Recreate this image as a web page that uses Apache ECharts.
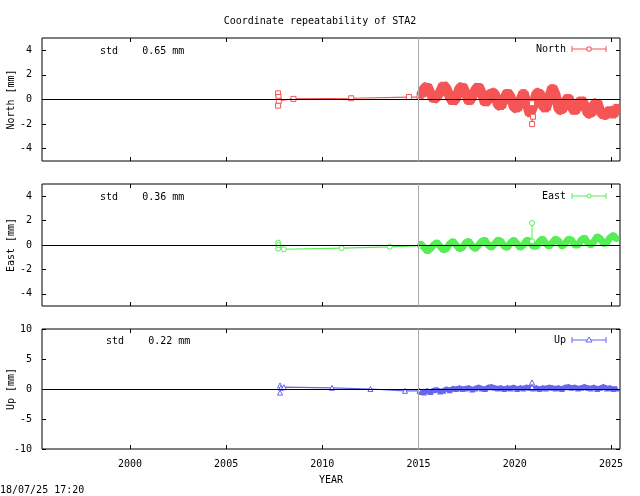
<!DOCTYPE html>
<html><head><meta charset="utf-8">
<script src="https://cdn.jsdelivr.net/npm/echarts@6/dist/echarts.min.js"></script>
<style>html,body{margin:0;padding:0;background:#fff}#c{width:640px;height:496px}</style>
</head><body><div id="c"></div>
<script>
const xTicks = [2000, 2005, 2010, 2015, 2020, 2025];
const yTicksNE = [-4, -2, 0, 2, 4];
const yTicksUp = [-10, -5, 0, 5, 10];
const yNames = ['North [mm]', 'East [mm]', 'Up [mm]'];
const t0 = 2015.12, step = 1/6;
const tPost = Array.from({length: 62}, (_, i) => +(t0 + i * step).toFixed(3));
const northEarlyT = [2007.7, 2007.7, 2007.72, 2007.74, 2008.5, 2011.5, 2014.5, 2015.05];
const northEarlyV = [0.5, -0.5, 0.2, -0.1, 0.05, 0.1, 0.2, 0.2];
const northPost = [0.3,0.9,1.1,0.5,0.0,0.2, 0.6,1.2,0.9,0.2,-0.2,0.1, 0.9,1.1,0.5,-0.2,0.2,0.8, 1.1,0.5,-0.3,0.0,0.6,0.5,
 -0.4,-0.6,0.1,0.6,0.2,-0.6, -0.8,-0.1,0.6,-0.3,-1.2,-0.6, 0.5,0.6,-0.5,-0.8,0.2,1.0, 0.4,-0.8,-0.9,-0.2,0.2,-0.6,
 -1.0,-0.5,0.0,-0.4,-1.1,-1.2, -0.4,-0.2,-1.0,-1.3,-1.2,-0.8, -1.3,-0.6];
const northOut = [[2020.9, -2.0], [2020.95, -1.4]];
const eastEarlyT = [2007.7, 2007.7, 2007.72, 2008.0, 2011.0, 2013.5, 2015.05];
const eastEarlyV = [0.2, -0.3, 0.0, -0.35, -0.25, -0.15, -0.05];
const eastPost = [0.1,-0.2,-0.5,-0.3,0.0,0.2, -0.1,-0.4,-0.3,0.1,0.3,0.0, -0.3,-0.2,0.2,0.3,-0.1,-0.3, 0.0,0.3,0.4,0.0,-0.2,0.1,
 0.4,0.3,-0.1,-0.2,0.2,0.4, 0.1,-0.2,0.0,0.4,0.3,-0.1, -0.1,0.3,0.5,0.1,-0.1,0.2, 0.5,0.3,-0.1,0.1,0.5,0.4,
 0.0,0.0,0.4,0.6,0.2,0.0, 0.3,0.7,0.5,0.1,0.2,0.6, 0.8,0.5];
const eastOut = [[2020.9, 1.8]];
const upEarlyT = [2007.8, 2007.8, 2007.85, 2008.0, 2010.5, 2012.5, 2014.3, 2015.05];
const upEarlyV = [0.6, -0.6, 0.2, 0.3, 0.2, 0.0, -0.3, -0.3];
const upPost = [-0.5,-0.6,-0.3,-0.5,-0.2,-0.1, -0.4,-0.3,0.0,-0.2,0.1,0.0, 0.2,0.0,0.1,0.2,-0.1,0.1, 0.3,0.1,0.0,0.3,0.4,0.2,
 0.1,0.2,0.0,0.2,0.1,0.3, 0.0,0.2,0.1,0.3,0.2,0.1, 0.2,0.0,0.2,0.1,0.3,0.2, 0.1,0.2,0.0,0.3,0.4,0.2,
 0.3,0.1,0.2,0.4,0.2,0.1, 0.3,0.0,0.2,0.4,0.1,0.2, 0.0,0.1];
const upOut = [[2020.9, 1.1]];
const stdText = ['std    0.65 mm', 'std    0.36 mm', 'std    0.22 mm'];

const F = 'DejaVu Sans Mono';
const cN = '#f55555', cE = '#55ee55', cU = '#6666ee';
const gdef = [{top:38,height:123},{top:184,height:122},{top:329,height:120}];
const grids = gdef.map(g=>({left:42,right:20,top:g.top,height:g.height,show:true,borderColor:'#000',borderWidth:1,outerBoundsMode:'none',containLabel:false}));
const xMin = 1995.43, xMax = 2025.47;
const xAxes = [], yAxes = [];
const tk = c=>({inside:true,length:4,customValues:c,lineStyle:{color:'#000'}});
[0,1,2].forEach(i=>{
  const bottom = i===2;
  xAxes.push({type:'value',gridIndex:i,position:'bottom',min:xMin,max:xMax,splitLine:{show:false},axisLine:{show:false,onZero:false},
    axisTick:tk(xTicks),
    axisLabel:{show:bottom,customValues:xTicks,formatter:v=>String(v),fontFamily:F,fontSize:10,color:'#000',margin:10},
    name:bottom?'YEAR':'',nameLocation:'middle',nameGap:26,nameTextStyle:{fontFamily:F,fontSize:10,color:'#000'}});
  xAxes.push({type:'value',gridIndex:i,position:'top',min:xMin,max:xMax,splitLine:{show:false},axisLine:{show:false,onZero:false},
    axisTick:tk(xTicks),axisLabel:{show:false}});
  const ticks = i===2?yTicksUp:yTicksNE;
  const lim = i===2?10:5;
  yAxes.push({type:'value',gridIndex:i,position:'left',min:-lim,max:lim,splitLine:{show:false},axisLine:{show:false,onZero:false},
    axisTick:tk(ticks),
    axisLabel:{customValues:ticks,fontFamily:F,fontSize:10,color:'#000',margin:10}});
  yAxes.push({type:'value',gridIndex:i,position:'right',min:-lim,max:lim,splitLine:{show:false},axisLine:{show:false,onZero:false},
    axisTick:tk(ticks),axisLabel:{show:false}});
});
function zip(t,v){return t.map((x,i)=>[x,v[i]]);}
function mk(){return {silent:true,symbol:'none',label:{show:false},data:[
  {yAxis:0,lineStyle:{color:'#000',width:1.2,type:'solid'}},
  {xAxis:2015.0,lineStyle:{color:'#aaa',width:1,type:'solid'}}]};}
const series=[];
[[northEarlyT,northEarlyV,northPost,northOut,cN,'North','rect',10],
 [eastEarlyT,eastEarlyV,eastPost,eastOut,cE,'East','circle',7],
 [upEarlyT,upEarlyV,upPost,upOut,cU,'Up','triangle',5]].forEach((s,i)=>{
  series.push({name:s[5],type:'line',xAxisIndex:2*i,yAxisIndex:2*i,data:zip(s[0],s[1]),symbol:s[6],symbolSize:5,
    showSymbol:true,itemStyle:{color:'#fff',borderColor:s[4]},lineStyle:{color:s[4],width:1.2},markLine:mk(),animation:false,z:3});
  series.push({name:s[5]+'b',type:'line',xAxisIndex:2*i,yAxisIndex:2*i,data:zip(tPost,s[2]),symbol:s[6],symbolSize:6,showSymbol:true,
    itemStyle:{color:s[4]},lineStyle:{color:s[4],width:s[7],join:'bevel'},animation:false,z:3});
  series.push({name:s[5]+'o',type:'line',xAxisIndex:2*i,yAxisIndex:2*i,data:[[s[3][0][0],0.3*Math.sign(s[3][0][1])]].concat(s[3]),
    symbol:s[6],symbolSize:5,itemStyle:{color:'#fff',borderColor:s[4]},lineStyle:{color:s[4],width:1},animation:false,z:3});
});
const graphic=[
  {type:'text',x:320,y:16,style:{text:'Coordinate repeatability of STA2',font:'10px '+F,fill:'#000',align:'center'}},
  {type:'text',left:100,top:46,style:{text:stdText[0],font:'10px '+F,fill:'#000'}},
  {type:'text',left:100,top:192,style:{text:stdText[1],font:'10px '+F,fill:'#000'}},
  {type:'text',left:106,top:336,style:{text:stdText[2],font:'10px '+F,fill:'#000'}},
  {type:'text',left:0,top:485,style:{text:'18/07/25 17:20',font:'10px '+F,fill:'#000'}}];
gdef.forEach((g,i)=>graphic.push({type:'text',x:11,y:g.top+g.height/2,rotation:Math.PI/2,
  style:{text:yNames[i],font:'10px '+F,fill:'#000',align:'center',verticalAlign:'middle'}}));
[['North',cN,49,'rect'],['East',cE,196,'circle'],['Up',cU,340,'triangle']].forEach(l=>{
  graphic.push({type:'text',x:566,y:l[2],style:{text:l[0],font:'10px '+F,fill:'#000',align:'right',verticalAlign:'middle'}});
  graphic.push({type:'line',shape:{x1:572,y1:l[2],x2:606,y2:l[2]},style:{stroke:l[1],lineWidth:1}});
  graphic.push({type:'line',shape:{x1:572,y1:l[2]-3,x2:572,y2:l[2]+3},style:{stroke:l[1],lineWidth:1}});
  graphic.push({type:'line',shape:{x1:606,y1:l[2]-3,x2:606,y2:l[2]+3},style:{stroke:l[1],lineWidth:1}});
  if(l[3]==='rect')graphic.push({type:'rect',shape:{x:587,y:l[2]-2,width:4,height:4},style:{stroke:l[1],fill:'#fff'}});
  else if(l[3]==='circle')graphic.push({type:'circle',shape:{cx:589,cy:l[2],r:2},style:{stroke:l[1],fill:'#fff'}});
  else graphic.push({type:'polygon',shape:{points:[[589,l[2]-3],[586,l[2]+2],[592,l[2]+2]]},style:{stroke:l[1],fill:'#fff'}});
});
const chart=echarts.init(document.getElementById('c'),null,{renderer:'canvas'});
chart.setOption({animation:false,backgroundColor:'#fff',grid:grids,xAxis:xAxes,yAxis:yAxes,series,graphic});
</script></body></html>
